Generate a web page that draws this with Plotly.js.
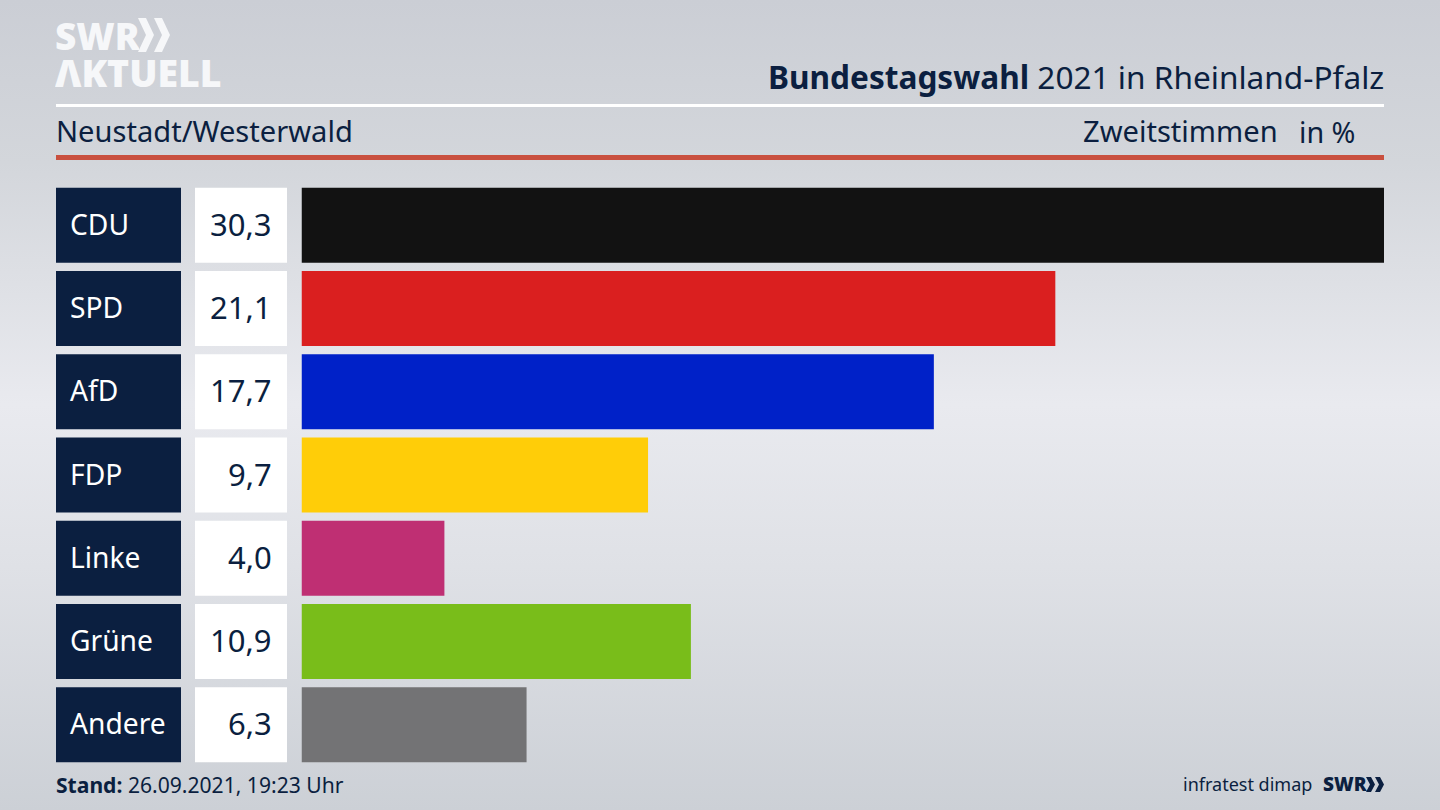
<!DOCTYPE html>
<html><head><meta charset="utf-8">
<script src="https://cdn.plot.ly/plotly-3.0.1.min.js"></script>
<style>
html,body{margin:0;padding:0;width:1440px;height:810px;overflow:hidden;
background:linear-gradient(180deg,#cbced5 0%,#d3d6db 20%,#e9eaef 50%,#dfe1e6 70%,#ccd0d6 100%);}
#c{width:1440px;height:810px}
</style></head><body><div id="c"></div>
<script>
const parties = ["CDU","SPD","AfD","FDP","Linke","Grüne","Andere"];
const shares = [30.3,21.1,17.7,9.7,4.0,10.9,6.3];
const shareLabels = ["30,3","21,1","17,7","9,7","4,0","10,9","6,3"];
const barColors = ["#121212","#da1f1f","#0021c8","#ffcd08","#bf2f73","#79bd1a","#737375"];
const W=1440,H=810, FONT='"Noto Sans", sans-serif', NAVY='#0b1f40';
const px=x=>x/W, py=y=>1-y/H;
const ones = parties.map(()=>1);

const base = {type:'bar',orientation:'h',y:parties,hoverinfo:'skip',showlegend:false,width:0.9};
const data = [
  {...base,x:ones,marker:{color:'#0b1f40'},xaxis:'x2',yaxis:'y'},
  {...base,x:ones,marker:{color:'#ffffff'},xaxis:'x3',yaxis:'y'},
  {...base,x:shares,marker:{color:barColors},xaxis:'x',yaxis:'y'}
];
const hidden = {showgrid:false,zeroline:false,showticklabels:false,ticks:'',showline:false,fixedrange:true};
const txt=(text,x,y,size,color,anchor,extra,fontExtra)=>Object.assign({
  text,x:px(x),y:py(y),xref:'paper',yref:'paper',xanchor:anchor||'left',yanchor:'middle',
  showarrow:false,font:Object.assign({family:FONT,size,color:color||NAVY},fontExtra||{}),borderpad:0,borderwidth:0},extra||{});
const LOGO='#f6f7f9';
const annotations = [
  txt('<b>Bundestagswahl</b> 2021 in Rheinland-Pfalz',1384,76.5,31.6,NAVY,'right'),
  txt('Neustadt/Westerwald',56,131,29.1),
  txt('Zweitstimmen',1083,131,29.1),
  txt('in %',1355,131,28.7,NAVY,'right'),
  txt('<b>Stand:</b> 26.09.2021, 19:23 Uhr',56,784,21.1),
  txt('infratest dimap',1312,784,18,NAVY,'right'),
  txt('SWR',1323,784,19,NAVY,'left',{},{weight:900}),
  txt('SWR',55,35,37,LOGO,'left',{height:34,width:84,align:'left'},{weight:900}),
  txt('ΛKTUELL',55,72,37.4,LOGO,'left',{height:34,width:170,align:'left'},{weight:900})
];
parties.forEach((p,i)=>{
  const yBase={xref:'paper',yref:'y',y:p,showarrow:false,yanchor:'middle',yshift:1.5};
  annotations.push({...yBase,text:p,x:px(68),xanchor:'left',font:{family:FONT,size:28.2,color:'#ffffff'}});
  annotations.push({...yBase,text:shareLabels[i],x:px(274),xanchor:'right',font:{family:FONT,size:31,color:NAVY}});
});
const rect=(x0,y0,x1,y1,color)=>({type:'rect',xref:'paper',yref:'paper',x0:px(x0),x1:px(x1),y0:py(y0),y1:py(y1),fillcolor:color,line:{width:0},layer:'above'});
const chevron=(x,y,w,h,t,color)=>({type:'path',xref:'paper',yref:'paper',fillcolor:color,line:{width:0},layer:'above',
  path:`M ${px(x)} ${py(y)} L ${px(x+t)} ${py(y)} L ${px(x+t+w)} ${py(y+h/2)} L ${px(x+t)} ${py(y+h)} L ${px(x)} ${py(y+h)} L ${px(x+w)} ${py(y+h/2)} Z`});
const shapes=[
  rect(56,104,1384,107,'#ffffff'),
  rect(56,155,1384,160,'#c9503f'),
  chevron(138,18,8,34,8,LOGO),
  chevron(154,18,8,34,8,LOGO),
  chevron(1366,777,4,15,5,NAVY),
  chevron(1375,777,4,15,5,NAVY)
];
const layout = {
  width:W,height:H,margin:{l:0,r:0,t:0,b:0,pad:0},
  paper_bgcolor:'rgba(0,0,0,0)',plot_bgcolor:'rgba(0,0,0,0)',
  barmode:'overlay',
  xaxis:{...hidden,domain:[px(301.5),px(1384)],range:[0,30.3],anchor:'y'},
  xaxis2:{...hidden,domain:[px(56),px(181)],range:[0,1],anchor:'y'},
  xaxis3:{...hidden,domain:[px(195),px(287)],range:[0,1],anchor:'y'},
  yaxis:{...hidden,type:'category',categoryorder:'array',categoryarray:parties,range:[6.5,-0.5],
         domain:[py(766.4),py(183.6)],anchor:'x'},
  annotations,shapes
};
Plotly.newPlot('c',data,layout,{displayModeBar:false,staticPlot:true});
</script></body></html>
